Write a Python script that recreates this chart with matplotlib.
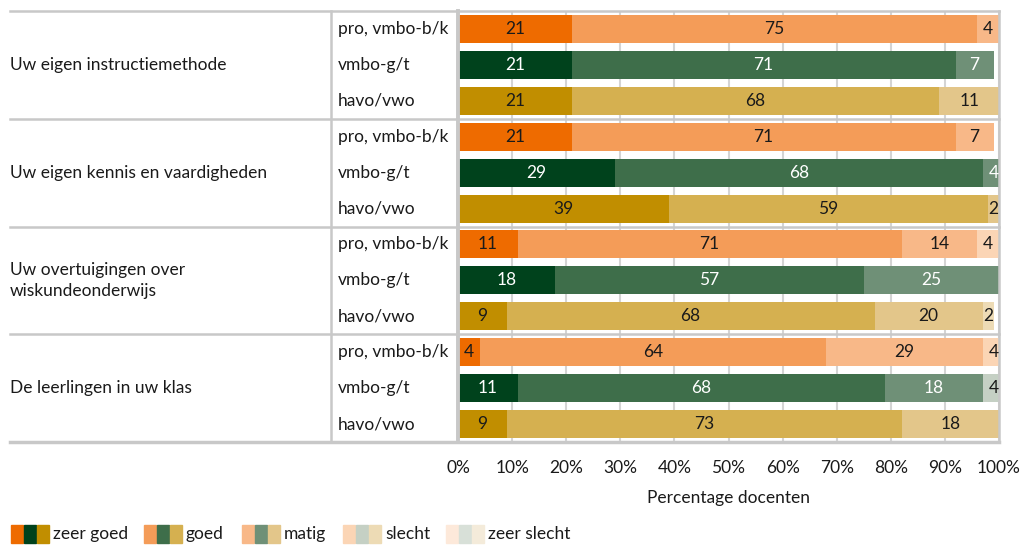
import matplotlib
matplotlib.use('Agg')
import matplotlib.pyplot as plt
from matplotlib.patches import Rectangle
from matplotlib.ticker import PercentFormatter

plt.rcParams['font.family'] = ['Lato', 'DejaVu Sans']
FS = 12.5

categories = ['zeer goed', 'goed', 'matig', 'slecht', 'zeer slecht']
groups = ['Uw eigen instructiemethode',
          'Uw eigen kennis en vaardigheden',
          'Uw overtuigingen over\nwiskundeonderwijs',
          'De leerlingen in uw klas']
levels = ['pro, vmbo-b/k', 'vmbo-g/t', 'havo/vwo']

# percentages per onderwerp: zeer goed, goed, matig, slecht, zeer slecht
pro_vmbo_bk = [[21, 75, 4, 0, 0],
               [21, 71, 7, 0, 0],
               [11, 71, 14, 4, 0],
               [4, 64, 29, 4, 0]]
vmbo_gt = [[21, 71, 7, 0, 0],
           [29, 68, 4, 0, 0],
           [18, 57, 25, 0, 0],
           [11, 68, 18, 4, 0]]
havo_vwo = [[21, 68, 11, 0, 0],
            [39, 59, 2, 0, 0],
            [9, 68, 20, 2, 0],
            [9, 73, 18, 0, 0]]

colors = {
    'pro, vmbo-b/k': ['#ee6b00', '#f49c58', '#f8b888', '#fbd5b5', '#fde9da'],
    'vmbo-g/t': ['#00421c', '#3e6e4a', '#6f9077', '#c5d0c4', '#d8e0d8'],
    'havo/vwo': ['#c18e00', '#d5b050', '#e3c68a', '#eddbb5', '#f4ebda'],
}
white_text = {'vmbo-g/t': [True, True, True, False, False]}

data = {'pro, vmbo-b/k': pro_vmbo_bk, 'vmbo-g/t': vmbo_gt, 'havo/vwo': havo_vwo}

W, H = 1024, 545
fig = plt.figure(figsize=(W / 100, H / 100), dpi=100)
ax = fig.add_axes([458 / W, 1 - 442 / H, 541 / W, 431 / H])

line_col = '#c8c8c8'
txt_col = '#1a1a1a'

row = 0
for g, group in enumerate(groups):
    for level in levels:
        vals = data[level][g]
        left = 0
        for k, v in enumerate(vals):
            if v == 0:
                continue
            ax.barh(row, v, left=left, height=0.78, color=colors[level][k],
                    zorder=2)
            white = white_text.get(level, [False] * 5)[k]
            ax.text(left + v / 2, row, str(v), ha='center', va='center',
                    fontsize=FS, color='white' if white else txt_col,
                    zorder=3, clip_on=False)
            left += v
        ax.text(-0.222, row, level, transform=ax.get_yaxis_transform(),
                ha='left', va='center', fontsize=FS, color=txt_col)
        row += 1
    ax.text(-0.828, row - 2, group, transform=ax.get_yaxis_transform(),
            ha='left', va='center', fontsize=FS, color=txt_col,
            linespacing=1.4)

ax.set_xlim(0, 100)
ax.set_ylim(11.5, -0.5)
ax.set_yticks([])
ax.set_xticks(range(0, 101, 10))
ax.xaxis.set_major_formatter(PercentFormatter(decimals=0))
ax.tick_params(axis='x', length=0, pad=13, labelsize=FS, labelcolor=txt_col)
ax.set_xlabel('Percentage docenten', fontsize=FS, color=txt_col, labelpad=10)
for s in ax.spines.values():
    s.set_visible(False)

# rasterlijnen en tabelranden
for x in range(10, 101, 10):
    ax.axvline(x, color='#d4d4d4', lw=1.5, zorder=1)
ytr = ax.get_yaxis_transform()
for y in [-0.5, 2.5, 5.5, 8.5]:
    ax.plot([-0.828, 1], [y, y], transform=ytr, color=line_col, lw=1.8,
            clip_on=False, zorder=1)
ax.plot([-0.828, 1], [11.5, 11.5], transform=ytr, color=line_col, lw=2.5,
        clip_on=False, zorder=1)
ax.plot([-0.235, -0.235], [-0.5, 11.5], transform=ytr, color=line_col,
        lw=1.8, clip_on=False)
ax.plot([0, 0], [-0.5, 11.5], transform=ytr, color=line_col, lw=2.8,
        clip_on=False, zorder=4)
ax.plot([1, 1], [-0.5, 11.5], transform=ytr, color=line_col, lw=1.8,
        clip_on=False)

# legenda
legend_x = [11, 144, 242, 343, 446]
for k, cat in enumerate(categories):
    x0 = legend_x[k]
    for j, level in enumerate(levels):
        fig.add_artist(Rectangle(((x0 + 13 * j) / W, 2 / H), 12 / W, 18 / H,
                                 transform=fig.transFigure,
                                 color=colors[level][k]))
    fig.text((x0 + 42) / W, 11 / H, cat, ha='left', va='center',
             fontsize=FS, color=txt_col)

fig.savefig('out.png', dpi=100)
